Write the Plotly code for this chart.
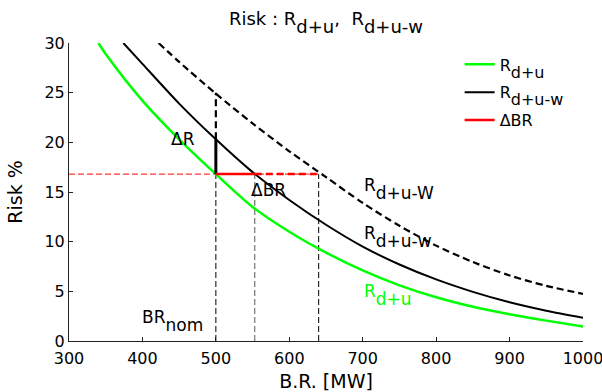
import plotly.graph_objects as go

# ---------------- data ----------------
br_d_u = [340, 350, 400, 450, 500, 550, 600, 650, 700, 750, 800, 850, 900, 950, 1000]
risk_d_u = [30.0, 28.9, 24.2, 20.3, 16.8, 13.5, 11.0, 8.9, 7.1, 5.6, 4.4, 3.45, 2.7, 2.05, 1.45]

br_d_u_w = [374, 400, 450, 500, 550, 600, 650, 700, 750, 800, 850, 900, 950, 1000]
risk_d_u_w = [30.0, 27.9, 23.9, 20.3, 17.0, 14.2, 11.7, 9.5, 7.7, 6.2, 4.95, 3.9, 3.05, 2.35]

br_d_u_W = [422, 450, 500, 550, 600, 650, 700, 750, 800, 850, 900, 950, 1000]
risk_d_u_W = [30.0, 28.1, 24.9, 21.9, 19.1, 16.5, 13.9, 11.6, 9.6, 7.95, 6.6, 5.55, 4.75]

br_nom = 500
br_dbr = 553
br_W = 640
risk_level = 16.8
risk_w_at_nom = 20.3
risk_W_at_nom = 25.0

x_ticks = [300, 400, 500, 600, 700, 800, 900, 1000]
y_ticks = [0, 5, 10, 15, 20, 25, 30]
x_min, x_max = 300, 1000
y_min, y_max = 0, 30

FONT = "DejaVu Sans"
GREEN = "#00ff00"


def sub(base, s, shift="-0.45em"):
    return f'{base}<span style="baseline-shift:{shift}">{s}</span>'


fig = go.Figure()

# thin reference lines
fig.add_trace(go.Scatter(x=[x_min, br_W], y=[risk_level, risk_level], mode="lines",
                         line=dict(color="red", width=1, dash="6px,3px"),
                         showlegend=False, hoverinfo="skip"))
fig.add_trace(go.Scatter(x=[br_nom, br_nom], y=[y_min, risk_level], mode="lines",
                         line=dict(color="black", width=1, dash="6px,3px"),
                         showlegend=False, hoverinfo="skip"))
fig.add_trace(go.Scatter(x=[br_dbr, br_dbr], y=[y_min, risk_level], mode="lines",
                         line=dict(color="#555555", width=1, dash="6px,3px"),
                         showlegend=False, hoverinfo="skip"))
fig.add_trace(go.Scatter(x=[br_W, br_W], y=[y_min, risk_level], mode="lines",
                         line=dict(color="black", width=1, dash="6px,3px"),
                         showlegend=False, hoverinfo="skip"))

# curves
fig.add_trace(go.Scatter(x=br_d_u, y=risk_d_u, mode="lines", name=sub("R", "d+u"),
                         line=dict(color=GREEN, width=2.5, shape="spline", smoothing=0.8),
                         legendrank=1, legendgroup="a"))
fig.add_trace(go.Scatter(x=br_d_u_w, y=risk_d_u_w, mode="lines", name=sub("R", "d+u-w"),
                         line=dict(color="black", width=2, shape="spline", smoothing=0.8),
                         legendrank=2, legendgroup="b"))
fig.add_trace(go.Scatter(x=br_d_u_W, y=risk_d_u_W, mode="lines", showlegend=False,
                         line=dict(color="black", width=2.2, dash="7px,4px",
                                   shape="spline", smoothing=0.8)))

# Delta R segments
fig.add_trace(go.Scatter(x=[br_nom, br_nom], y=[risk_w_at_nom, risk_W_at_nom], mode="lines",
                         line=dict(color="black", width=2.2, dash="7px,4px"),
                         showlegend=False, hoverinfo="skip"))
fig.add_trace(go.Scatter(x=[br_nom, br_nom], y=[risk_level, risk_w_at_nom], mode="lines",
                         line=dict(color="black", width=3),
                         showlegend=False, hoverinfo="skip"))

# Delta BR segments
fig.add_trace(go.Scatter(x=[br_dbr, br_W], y=[risk_level, risk_level], mode="lines",
                         line=dict(color="red", width=2.5, dash="7px,4px"),
                         showlegend=False, hoverinfo="skip"))
fig.add_trace(go.Scatter(x=[br_nom, br_dbr], y=[risk_level, risk_level], mode="lines",
                         name="ΔBR", line=dict(color="red", width=2.5),
                         legendrank=3, legendgroup="c"))

ann_font = dict(family=FONT, size=17, color="black")
annotations = [
    dict(x=455, y=20.3, text="ΔR", xanchor="center", yanchor="middle"),
    dict(x=572, y=15.2, text="ΔBR", xanchor="center", yanchor="middle"),
    dict(x=699, y=15.3, text=sub("R", "d+u-W"), xanchor="left", yanchor="middle"),
    dict(x=699, y=10.5, text=sub("R", "d+u-w"), xanchor="left", yanchor="middle"),
    dict(x=699, y=4.6, text=sub("R", "d+u"), xanchor="left", yanchor="middle",
         font=dict(family=FONT, size=17, color=GREEN)),
    dict(x=397, y=2.0, text=sub("BR", "nom"), xanchor="left", yanchor="middle"),
]
for a in annotations:
    a.setdefault("font", ann_font)
    a.update(xref="x", yref="y", showarrow=False)

fig.update_layout(
    width=602, height=392,
    margin=dict(l=69, r=19, t=43, b=51),
    paper_bgcolor="white", plot_bgcolor="white",
    font=dict(family=FONT, size=16, color="black"),
    title=dict(text="Risk : " + sub("R", "d+u") + ",  " + sub("R", "d+u-w"),
               x=0.5, xref="paper", y=1 - 19 / 392, yref="container",
               xanchor="center", yanchor="middle",
               font=dict(family=FONT, size=18, color="black")),
    legend=dict(x=0.76, y=0.985, xanchor="left", yanchor="top",
                bgcolor="rgba(0,0,0,0)", borderwidth=0,
                font=dict(family=FONT, size=16, color="black"),
                tracegroupgap=4),
    annotations=annotations,
    showlegend=True,
)
fig.update_xaxes(range=[x_min, x_max], tickvals=x_ticks, ticks="inside", ticklen=4,
                 tickcolor="#222", showline=True, linecolor="#222", linewidth=1,
                 showgrid=False, zeroline=False, mirror=False, automargin=False,
                 ticklabeloverflow="allow", ticklabelstandoff=3,
                 tickfont=dict(family=FONT, size=16),
                 title=dict(text="B.R. [MW]", font=dict(family=FONT, size=19), standoff=7))
fig.update_yaxes(range=[y_min, y_max], tickvals=y_ticks, ticks="inside", ticklen=4,
                 tickcolor="#222", showline=True, linecolor="#222", linewidth=1,
                 showgrid=False, zeroline=False, mirror=False, automargin=False,
                 tickfont=dict(family=FONT, size=16),
                 title=dict(text="Risk %", font=dict(family=FONT, size=19), standoff=16))

fig.write_html("out.html")
